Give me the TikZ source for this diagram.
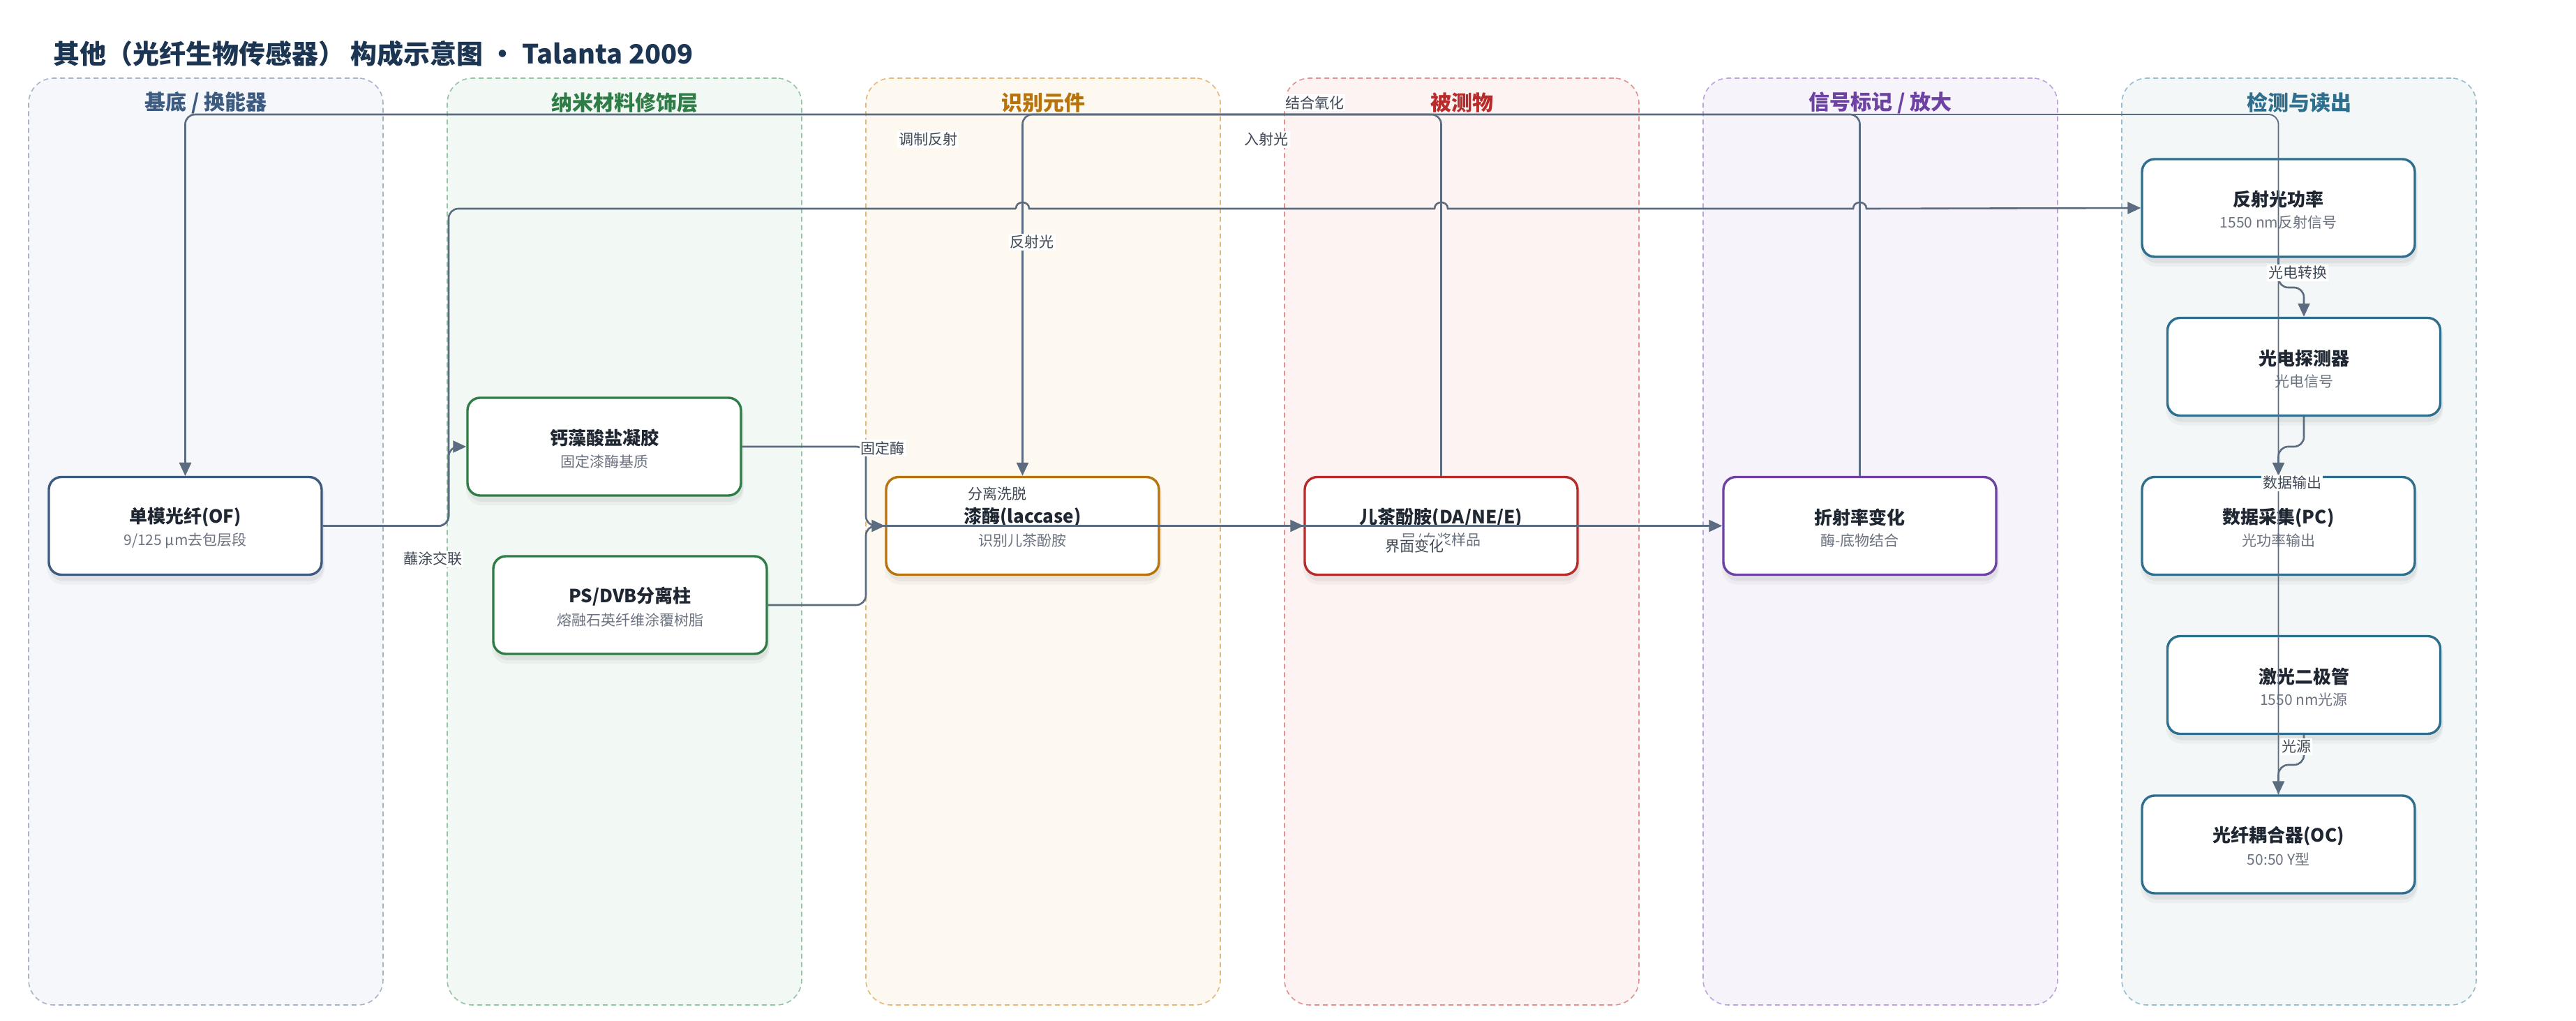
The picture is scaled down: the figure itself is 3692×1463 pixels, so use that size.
\documentclass[tikz,border=0pt]{standalone}
\usepackage{fontspec}
\setmainfont{Noto Sans CJK SC}
\usetikzlibrary{arrows.meta}
\definecolor{ttlc}{HTML}{1C3553}
\definecolor{ec}{HTML}{5B6B80}
\definecolor{lc}{HTML}{3F4854}
\definecolor{nt}{HTML}{1F2733}
\definecolor{ns}{HTML}{6B7280}
% column colours: fill, stroke, header/border
\definecolor{f1}{HTML}{F5F7FB}\definecolor{s1}{HTML}{A7B3C8}\definecolor{h1}{HTML}{3D5A80}
\definecolor{f2}{HTML}{F2F8F3}\definecolor{s2}{HTML}{94C5A2}\definecolor{h2}{HTML}{2E7D46}
\definecolor{f3}{HTML}{FDF8F0}\definecolor{s3}{HTML}{E3B878}\definecolor{h3}{HTML}{B8740A}
\definecolor{f4}{HTML}{FDF3F2}\definecolor{s4}{HTML}{E29190}\definecolor{h4}{HTML}{B92A2A}
\definecolor{f5}{HTML}{F6F3FB}\definecolor{s5}{HTML}{BCA3DC}\definecolor{h5}{HTML}{6E42A3}
\definecolor{f6}{HTML}{F3F7F8}\definecolor{s6}{HTML}{97BCCB}\definecolor{h6}{HTML}{2E6F8E}
\tikzset{
  colbox/.style={rectangle, rounded corners=36pt, line width=1.6pt, dash pattern=on 7pt off 5pt, minimum width=508pt, minimum height=1328pt, inner sep=0pt},
  colhead/.style={font=\fontsize{30}{34}\selectfont\bfseries, inner sep=0pt},
  nbox/.style={rectangle, rounded corners=18pt, line width=3.4pt, fill=white, minimum height=140pt, inner sep=0pt},
  ntitle/.style={font=\fontsize{26}{30}\selectfont\bfseries, text=nt, inner sep=0pt},
  nsub/.style={font=\fontsize{21}{24}\selectfont, text=ns, inner sep=0pt},
  edge/.style={draw=ec, line width=2.6pt, rounded corners=14pt},
  thinedge/.style={draw=ec, line width=1.8pt, rounded corners=14pt},
  arr/.style={-{Triangle[length=19pt,width=17pt]}},
  lbl/.style={fill=white, inner sep=2pt, text=lc, font=\fontsize{21}{24}\selectfont},
}
\newcommand{\colpanel}[5]{% name, center x, fill, stroke, header text / colour
  \node[colbox, fill=#3, draw=#4] (#1) at (#2,776) {};
}
\newcommand{\cbox}[7]{% name, x, y, width, colour, title, subtitle
  \fill[black, opacity=0.035, rounded corners=22pt] ({#2-#4/2-2},{#3-70+3}) rectangle ({#2+#4/2+4},{#3+70+14});
  \fill[black, opacity=0.05, rounded corners=20pt] ({#2-#4/2+1},{#3-70+5}) rectangle ({#2+#4/2+3},{#3+70+9});
  \node[nbox, draw=#5, minimum width=#4pt] (#1) at (#2,#3) {};
  \node[ntitle] (#1-t) at (#2,{#3-12}) {#6};
  \node[nsub] (#1-s) at (#2,{#3+21}) {#7};
}
\begin{document}
\begin{tikzpicture}[x=1pt,y=-1pt]
\useasboundingbox (0,0) rectangle (3692,1463);
% title
\node[anchor=west, inner sep=0pt, text=ttlc, font=\fontsize{38}{44}\selectfont\bfseries] (title) at (76,77) {其他（光纤生物传感器） 构成示意图 • Talanta 2009};
% columns
\colpanel{col1}{295}{f1}{s1}{}
\colpanel{col2}{895}{f2}{s2}{}
\colpanel{col3}{1495}{f3}{s3}{}
\colpanel{col4}{2095}{f4}{s4}{}
\colpanel{col5}{2695}{f5}{s5}{}
\colpanel{col6}{3295}{f6}{s6}{}
\node[colhead, text=h1] (hd1) at (295,147) {基底 / 换能器};
\node[colhead, text=h2] (hd2) at (895,147) {纳米材料修饰层};
\node[colhead, text=h3] (hd3) at (1495,147) {识别元件};
\node[colhead, text=h4] (hd4) at (2095,147) {被测物};
\node[colhead, text=h5] (hd5) at (2695,147) {信号标记 / 放大};
\node[colhead, text=h6] (hd6) at (3295,147) {检测与读出};
% nodes
\cbox{of}{265.5}{753.5}{391}{h1}{单模光纤(OF)}{9/125 µm去包层段}
\cbox{gel}{866}{640}{392}{h2}{钙藻酸盐凝胶}{固定漆酶基质}
\cbox{ps}{903}{867}{392}{h2}{PS/DVB分离柱}{熔融石英纤维涂覆树脂}
\cbox{lac}{1465.5}{753.5}{391}{h3}{漆酶(laccase)}{识别儿茶酚胺}
\cbox{ca}{2065.5}{753.5}{391}{h4}{儿茶酚胺(DA/NE/E)}{尿/血浆样品}
\cbox{ri}{2665.5}{753.5}{391}{h5}{折射率变化}{酶-底物结合}
\cbox{rp}{3265.5}{298}{391}{h6}{反射光功率}{1550 nm反射信号}
\cbox{pd}{3302}{525.5}{391}{h6}{光电探测器}{光电信号}
\cbox{pc}{3265.5}{753.5}{391}{h6}{数据采集(PC)}{光功率输出}
\cbox{ld}{3302}{981.5}{391}{h6}{激光二极管}{1550 nm光源}
\cbox{oc}{3265.5}{1210}{391}{h6}{光纤耦合器(OC)}{50:50 Y型}
% helper coordinates
\coordinate (ytop) at (0,164);
\coordinate (yref) at (0,299);
\coordinate (xb1) at (643,0);
\coordinate (xb2) at (1241,0);
% edges
\draw[thinedge, arr] (oc.north) -- (oc.north |- ytop) -- (of.north |- ytop) -- (of.north);
\draw[edge, arr] (ri.north) -- (ri.north |- ytop) -- (of.north |- ytop) -- (of.north);
\draw[edge, arr] (ca.north) -- (ca.north |- ytop) -- (lac.north |- ytop) -- (lac.north);
\draw[edge, arr] (of.east) -- (xb1 |- of.east) -- (xb1 |- gel.west) -- (gel.west);
\draw[edge] (of.east) -- (xb1 |- of.east) -- (xb1 |- yref) -- (1456,299);
\draw[draw=ec, line width=2.6pt, arr] (1456,299) .. controls (1456,287) and (1475,287) .. (1475,299)
  -- (2056,299) .. controls (2056,287) and (2075,287) .. (2075,299)
  -- (2656,299) .. controls (2656,287) and (2675,287) .. (2675,299)
  -- (rp.west);
\draw[edge, arr] (gel.east) -- (xb2 |- gel.east) -- (xb2 |- lac.west) -- (lac.west);
\draw[edge, arr] (ps.east) -- (xb2 |- ps.east) -- (xb2 |- ca.west) -- (ca.west);
\draw[edge, arr] (lac.east) -- (ri.west);
\draw[edge, arr] (rp.south) -- (3265.5,412) -- (3302,412) -- (pd.north);
\draw[edge, arr] (pd.south) -- (3302,640) -- (3265.5,640) -- (pc.north);
\draw[edge, arr] (ld.south) -- (3302,1096) -- (3265.5,1096) -- (oc.north);
% edge labels
\node[lbl] (l1) at (1815,200) {入射光};
\node[lbl] (l2) at (1330,200) {调制反射};
\node[lbl] (l3) at (1884,147) {结合氧化};
\node[lbl] (l4) at (1479,347) {反射光};
\node[lbl] (l5) at (620,801) {蘸涂交联};
\node[lbl] (l6) at (1265,642) {固定酶};
\node[lbl] (l7) at (1429,707) {分离洗脱};
\node[lbl] (l8) at (2027,782) {界面变化};
\node[lbl] (l9) at (3293,391) {光电转换};
\node[lbl] (l10) at (3285,692) {数据输出};
\node[lbl] (l11) at (3291,1070) {光源};
\end{tikzpicture}
\end{document}
